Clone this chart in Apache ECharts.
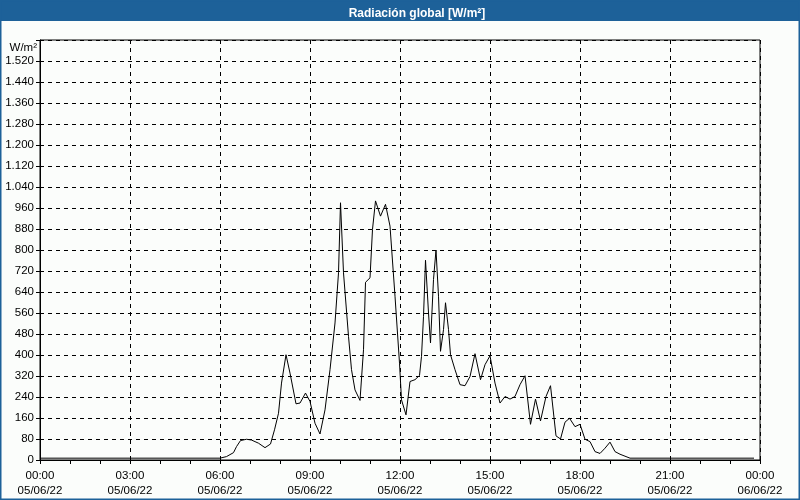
<!DOCTYPE html>
<html>
<head>
<meta charset="utf-8">
<script src="https://cdn.jsdelivr.net/npm/echarts@6/dist/echarts.min.js"></script>
<style>
html,body{margin:0;padding:0;background:#fbfdfb;}
#chart{width:800px;height:500px;}
</style>
</head>
<body>
<div id="chart"></div>
<script>
// time in minutes after 00:00 on 05/06/22
const minutes = [0,360,363,373,387,393,401,413,423,437,450,461,469,477,483,492,500,512,520,531,540,550,560,570,580,590,597,601,607,617,623,630,640,647,651,660,665,671,681,691,700,710,719,723,732,740,750,759,763,767,771,777,781,787,792,797,801,807,811,817,821,830,840,850,860,870,881,890,900,910,920,930,940,950,960,970,981,991,1001,1012,1021,1032,1041,1050,1059,1070,1080,1090,1100,1110,1120,1130,1140,1150,1160,1172,1180,1428];
const radiation = [7,7,9,13,28,51,74,79,76,64,47,61,115,178,293,401,331,214,217,255,223,140,99,191,344,522,713,980,713,471,344,267,227,420,677,694,879,987,929,974,891,624,369,229,172,299,306,322,395,547,761,560,446,688,800,624,414,497,599,497,401,344,287,283,318,405,306,363,397,293,217,242,232,242,287,321,136,232,149,242,283,92,80,144,159,127,136,79,70,32,25,45,68,32,22,13,7,7];
const xTickLabels = {0:'00:00\n05/06/22',180:'03:00\n05/06/22',360:'06:00\n05/06/22',540:'09:00\n05/06/22',720:'12:00\n05/06/22',900:'15:00\n05/06/22',1080:'18:00\n05/06/22',1260:'21:00\n05/06/22',1440:'00:00\n06/06/22'};
const titleText = 'Radiación global [W/m²]';
const unitText = 'W/m²';

const chart = echarts.init(document.getElementById('chart'));
const font = 'Liberation Sans';
chart.setOption({
  backgroundColor: '#fbfdfb',
  animation: false,
  graphic: [
    {type:'rect', shape:{x:0,y:0,width:800,height:21}, style:{fill:'#1d6199'}, z:0},
    {type:'rect', shape:{x:0.5,y:0.5,width:799,height:499}, style:{fill:'none',stroke:'#1d6199',lineWidth:2}, z:0}
  ],
  title: {
    text: titleText, left: 412, top: 3, textAlign: 'center',
    textStyle: {color:'#ffffff', fontFamily: font, fontSize: 12, fontWeight: 'bold'}
  },
  grid: {left:40, right:40, top:40, bottom:40, show:true, borderColor:'#000', borderWidth:1, backgroundColor:'transparent'},
  xAxis: {
    type:'value', min:0, max:1440, interval:180,
    axisLine:{show:true, lineStyle:{color:'#000'}},
    axisTick:{show:true, length:4, lineStyle:{color:'#000'}},
    minorTick:{show:true, splitNumber:3, length:4, lineStyle:{color:'#000'}},
    splitLine:{show:true, lineStyle:{color:'#000', type:[4,4], width:1}},
    axisLabel:{color:'#000', fontFamily:font, fontSize:11.5, lineHeight:15, margin:8,
      formatter: v => xTickLabels[v] || ''}
  },
  yAxis: {
    type:'value', min:0, max:1600, interval:80,
    name: unitText, nameLocation:'end', nameGap:-14,
    nameTextStyle:{color:'#000', fontFamily:font, fontSize:11.5, align:'right', padding:[0,3,0,0]},
    axisLine:{show:true, lineStyle:{color:'#000'}},
    axisTick:{show:true, length:4, lineStyle:{color:'#000'}},
    splitLine:{show:true, lineStyle:{color:'#000', type:[4,4], width:1}},
    axisLabel:{color:'#000', fontFamily:font, fontSize:11.5, margin:6,
      formatter: v => v >= 1600 ? '' : (v >= 1000 ? Math.floor(v/1000) + '.' + String(v%1000).padStart(3,'0') : String(v))}
  },
  series: [{
    type:'line', data: minutes.map((m,i)=>[m, radiation[i]]),
    showSymbol:false, symbol:'none',
    lineStyle:{color:'#000', width:1}, z:5
  }]
});
</script>
</body>
</html>
